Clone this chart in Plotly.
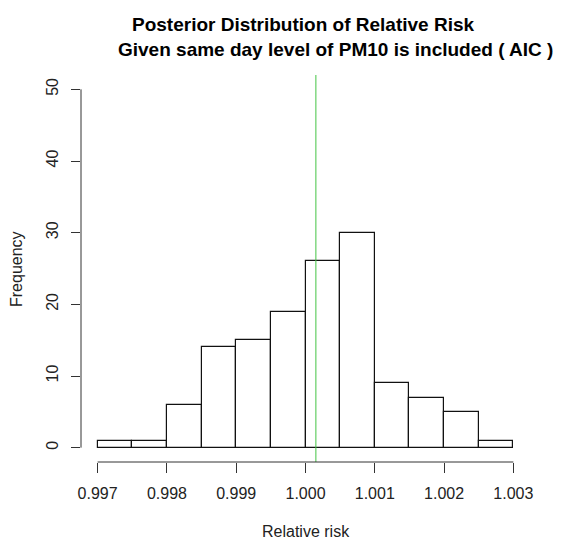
import plotly.graph_objects as go

# Histogram bins (breaks) and counts
bin_starts = [0.9970, 0.9975, 0.9980, 0.9985, 0.9990, 0.9995,
              1.0000, 1.0005, 1.0010, 1.0015, 1.0020, 1.0025]
bin_width = 0.0005
counts = [1, 1, 6, 14, 15, 19, 26, 30, 9, 7, 5, 1]

x_ticks = [0.997, 0.998, 0.999, 1.000, 1.001, 1.002, 1.003]
x_tick_labels = ["0.997", "0.998", "0.999", "1.000", "1.001", "1.002", "1.003"]
y_ticks = [0, 10, 20, 30, 40, 50]

ref_line_x = 1.00015

title_line1 = "Posterior Distribution of Relative Risk"
title_line2 = "Given same day level of PM10 is included ( AIC )"
x_title = "Relative risk"
y_title = "Frequency"

FONT = "Liberation Sans, Arial, sans-serif"

centers = [s + bin_width / 2 for s in bin_starts]

fig = go.Figure()
fig.add_trace(go.Bar(
    x=centers, y=counts, width=[bin_width] * len(counts),
    marker=dict(color="white", line=dict(color="#111111", width=1.2)),
    hoverinfo="x+y", showlegend=False,
))

xr = [x_ticks[0] - 0.04 * (x_ticks[-1] - x_ticks[0]), x_ticks[-1] + 0.04 * (x_ticks[-1] - x_ticks[0])]
yr = [y_ticks[0] - 0.04 * (y_ticks[-1] - y_ticks[0]), y_ticks[-1] + 0.04 * (y_ticks[-1] - y_ticks[0])]

shapes = [
    dict(type="line", xref="x", yref="paper", x0=ref_line_x, x1=ref_line_x, y0=0, y1=1,
         line=dict(color="#44c444", width=1)),
    dict(type="line", xref="x", yref="paper", x0=x_ticks[0], x1=x_ticks[-1], y0=0, y1=0,
         line=dict(color="#333333", width=1)),
    dict(type="line", xref="paper", yref="y", x0=0, x1=0, y0=y_ticks[0], y1=y_ticks[-1],
         line=dict(color="#333333", width=1)),
]

annotations = [
    dict(text=title_line1, xref="paper", yref="paper", x=0.4955, y=1.1305,
         xanchor="center", yanchor="middle", showarrow=False,
         font=dict(family=FONT, size=19, color="black", weight="bold")),
    dict(text=title_line2, xref="paper", yref="paper", x=0.566, y=1.066,
         xanchor="center", yanchor="middle", showarrow=False,
         font=dict(family=FONT, size=19, color="black", weight="bold")),
    dict(text=x_title, xref="paper", yref="paper", x=0.5, y=-0.1795,
         xanchor="center", yanchor="middle", showarrow=False,
         font=dict(family=FONT, size=16, color="#222222")),
    dict(text=y_title, xref="paper", yref="paper", x=-0.1437, y=0.5,
         xanchor="center", yanchor="middle", showarrow=False, textangle=-90,
         font=dict(family=FONT, size=16, color="#222222")),
]

fig.update_layout(
    width=553, height=532,
    margin=dict(l=73, r=31, t=67, b=78),
    paper_bgcolor="white", plot_bgcolor="white",
    bargap=0,
    shapes=shapes,
    annotations=annotations,
    xaxis=dict(range=xr, tickvals=x_ticks, ticktext=x_tick_labels,
               showgrid=False, zeroline=False, showline=False,
               ticks="outside", ticklen=10, tickcolor="#333333", ticklabelstandoff=7,
               tickfont=dict(family=FONT, size=16, color="#222222")),
    yaxis=dict(range=yr, tickvals=y_ticks, showgrid=False, zeroline=False, showline=False,
               ticks="outside", ticklen=9, tickcolor="#333333", tickangle=-90,
               ticklabelstandoff=7,
               tickfont=dict(family=FONT, size=16, color="#222222")),
)

fig.write_html("out.html")
